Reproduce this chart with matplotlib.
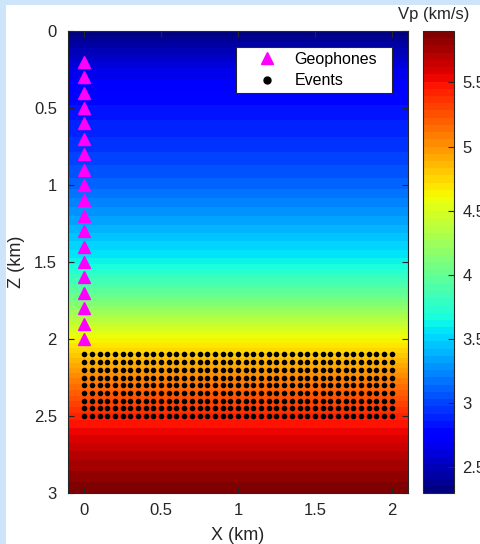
import numpy as np
import matplotlib
matplotlib.use("Agg")
import matplotlib.pyplot as plt
from matplotlib.patches import Rectangle
from matplotlib.transforms import IdentityTransform

plt.rcParams["font.family"] = ["Liberation Sans", "DejaVu Sans"]

# velocity profile (depth in km, Vp in km/s)
depth_km = [0.0, 0.25, 0.5, 0.75, 1.0, 1.25, 1.5, 1.75, 2.0, 2.25, 2.5, 2.75, 3.0]
vp_kms = [2.32, 2.65, 2.82, 2.95, 3.12, 3.36, 3.62, 4.08, 4.62, 5.05, 5.42, 5.70, 5.90]

geophone_x = [0.0] * 19
geophone_z = [0.2, 0.3, 0.4, 0.5, 0.6, 0.7, 0.8, 0.9, 1.0, 1.1, 1.2, 1.3, 1.4,
              1.5, 1.6, 1.7, 1.8, 1.9, 2.0]

event_x = [0.0, 0.05, 0.1, 0.15, 0.2, 0.25, 0.3, 0.35, 0.4, 0.45, 0.5, 0.55, 0.6,
           0.65, 0.7, 0.75, 0.8, 0.85, 0.9, 0.95, 1.0, 1.05, 1.1, 1.15, 1.2, 1.25,
           1.3, 1.35, 1.4, 1.45, 1.5, 1.55, 1.6, 1.65, 1.7, 1.75, 1.8, 1.85, 1.9,
           1.95, 2.0]
event_z = [2.1, 2.15, 2.2, 2.25, 2.3, 2.35, 2.4, 2.45, 2.5]

x_ticks = [0, 0.5, 1, 1.5, 2]
z_ticks = [0, 0.5, 1, 1.5, 2, 2.5, 3]
cb_ticks = [2.5, 3, 3.5, 4, 4.5, 5, 5.5]
vmin, vmax = 2.3, 5.9

W, H = 480, 544
fig = plt.figure(figsize=(W / 100, H / 100), dpi=100)
fig.patch.set_facecolor("#cde4fb")
fig.patches.append(Rectangle((6 / W, 0), 1 - 6 / W, 1 - 5 / H, transform=fig.transFigure,
                             facecolor="white", edgecolor="none", zorder=-10))

def px_axes(x0, y0, x1, y1):
    return fig.add_axes([x0 / W, 1 - y1 / H, (x1 - x0) / W, (y1 - y0) / H])

ax = px_axes(68, 31, 408, 493)
cax = px_axes(423, 31, 454, 493)

cmap = plt.get_cmap("jet").resampled(64)
model = np.array(vp_kms)[:, None] * np.ones((1, 2))
dz = depth_km[1] - depth_km[0]
im = ax.imshow(model, cmap=cmap, vmin=vmin, vmax=vmax, aspect="auto",
               interpolation="bilinear", origin="upper",
               extent=[-0.1, 2.1, depth_km[-1] + dz / 2, depth_km[0] - dz / 2])

ex, ez = np.meshgrid(event_x, event_z)
ax.plot(geophone_x, geophone_z, "^", color="#ff00ff", markersize=8.5,
        linestyle="none", label="Geophones")
ax.plot(ex.ravel(), ez.ravel(), "o", color="black", markersize=3,
        linestyle="none", label="Events")

ax.set_xlim(-0.105, 2.105)
ax.set_ylim(3, 0)
ax.set_xticks(x_ticks)
ax.set_xticklabels(["0", "0.5", "1", "1.5", "2"])
ax.set_yticks(z_ticks)
ax.set_yticklabels(["0", "0.5", "1", "1.5", "2", "2.5", "3"])

dark = "#262626"
ax.tick_params(direction="in", top=True, right=True, length=4, width=0.8,
               colors=dark, labelsize=12)
ax.tick_params(axis="y", pad=8)
ax.tick_params(axis="x", pad=7)
for s in ax.spines.values():
    s.set_color(dark)
    s.set_linewidth(0.8)

ax.set_xlabel("X (km)", fontsize=13, color=dark)
ax.set_ylabel("Z (km)", fontsize=13, color=dark)
ax.xaxis.set_label_coords(0.5, (493 - 535) / 462)
ax.xaxis.label.set_verticalalignment("center")
ax.yaxis.set_label_coords((17 - 68) / 340, 0.5)
ax.yaxis.label.set_verticalalignment("center")

# legend without its own frame; a wider matlab-like box is drawn around it
leg = ax.legend(loc="upper right", bbox_to_anchor=((382 - 68) / 340, 1 - 16 / 462),
                fontsize=11.5, frameon=False, borderaxespad=0,
                handletextpad=0.75, borderpad=0.3, labelspacing=0.4,
                handlelength=2.0)
leg.legend_handles[1].set_markersize(5)

cb = fig.colorbar(im, cax=cax, ticks=cb_ticks)
cb.ax.set_yticklabels(["2.5", "3", "3.5", "4", "4.5", "5", "5.5"])
cb.ax.tick_params(direction="in", length=4, width=0.8, colors=dark, labelsize=12, pad=6)
cb.outline.set_edgecolor(dark)
cb.outline.set_linewidth(0.8)
fig.text(434 / W, 1 - 15 / H, "Vp (km/s)", ha="center", va="center",
         fontsize=12, color=dark)

fig.canvas.draw()
bb = leg.get_window_extent()
box = Rectangle((bb.x0 - 10, bb.y0), bb.width + 20, bb.height,
                transform=IdentityTransform(), facecolor="white",
                edgecolor=dark, linewidth=0.8, zorder=4)
fig.patches.append(box)
leg.set_zorder(5)
leg.remove()
fig.legends.append(leg)
leg.set_figure(fig)

fig.savefig("out.png", dpi=100, facecolor=fig.get_facecolor())
